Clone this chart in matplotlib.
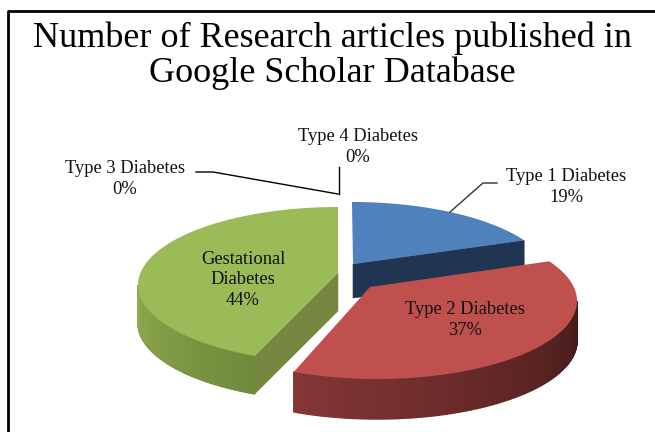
import numpy as np
import matplotlib
matplotlib.use('Agg')
import matplotlib.pyplot as plt
from matplotlib.colors import to_rgb

# clockwise from 12 o'clock
names = ['Type 1 Diabetes', 'Type 2 Diabetes', 'Gestational\nDiabetes', 'Type 3 Diabetes', 'Type 4 Diabetes']
values = [19, 37, 44, 0, 0]
top_colors = ['#4F81BD', '#C0504D', '#9BBB59']
title_text = 'Number of Research articles published in\nGoogle Scholar Database'

plt.rcParams['font.family'] = ['Liberation Serif', 'DejaVu Serif']

fig = plt.figure(figsize=(6.55, 4.32), dpi=100)
ax = fig.add_axes([0, 0, 1, 1])
ax.set_xlim(0, 655)
ax.set_ylim(432, 0)
ax.axis('off')

# excel style fake 3d: each exploded slice has its own ellipse centre and apex
RX, RY = 200, 78
centers = [(352, 280), (377, 301), (338, 285)]
apexes = [(353, 264), (370, 287), (338, 273)]
depths = [34, 40, 38]
# perspective moves the slice borders a bit along the rim
border_shift = np.array([0, -9, 3, 0])


def rim(center, a):
    # a in degrees clockwise from top
    r = np.radians(a)
    return center[0] + RX * np.sin(r), center[1] - RY * np.cos(r)


def mix(c1, c2, t):
    c1 = np.array(to_rgb(c1))
    c2 = np.array(to_rgb(c2))
    return tuple(c1 + (c2 - c1) * t)


def side_wall(center, a1, a2, depth, c1, c2, n=150):
    # arc wall made of thin strips so the shading runs along the rim
    angs = np.linspace(a1, a2, n + 1)
    for i in range(n):
        x0, y0 = rim(center, angs[i])
        x1, y1 = rim(center, angs[i + 1])
        col = mix(c1, c2, i / (n - 1))
        ax.fill([x0, x1, x1, x0], [y0, y1, y1 + depth, y0 + depth],
                facecolor=col, edgecolor=col, lw=1.0, zorder=order)


def flat_wall(p, q, depth, color):
    ax.fill([p[0], q[0], q[0], p[0]], [p[1], q[1], q[1] + depth, p[1] + depth],
            color=color, lw=0.4, zorder=order)


cum = np.concatenate([[0], np.cumsum(values[:3])]) / sum(values) * 360 + border_shift
spans = [(cum[i], cum[i + 1]) for i in range(3)]

# blue slice
order = 1
flat_wall(apexes[0], rim(centers[0], spans[0][1]), depths[0], '#1F3552')
a = np.linspace(spans[0][0], spans[0][1], 80)
x, y = rim(centers[0], a)
ax.fill(np.r_[apexes[0][0], x], np.r_[apexes[0][1], y], color=top_colors[0], lw=0, zorder=2)

# green slice
order = 3
side_wall(centers[2], spans[2][0], 270, depths[2], '#6F8A3A', '#8FAB4F')
flat_wall(apexes[2], rim(centers[2], spans[2][0]), depths[2], '#76883F')
a = np.linspace(spans[2][0], spans[2][1], 120)
x, y = rim(centers[2], a)
ax.fill(np.r_[apexes[2][0], x], np.r_[apexes[2][1], y], color=top_colors[2], lw=0, zorder=4)

# red slice
order = 5
side_wall(centers[1], spans[1][1], 90, depths[1], '#843736', '#451B1A')
a = np.linspace(spans[1][0], spans[1][1], 120)
x, y = rim(centers[1], a)
ax.fill(np.r_[apexes[1][0], x], np.r_[apexes[1][1], y], color=top_colors[1], lw=0, zorder=6)

# labels
label_pos = [(566, 187), (465, 320), (243, 280), (125, 179), (358, 147)]
for name, v, (lx, ly) in zip(names, values, label_pos):
    ax.text(lx, ly, f'{name}\n{v}%', ha='center', va='center', fontsize=13.3,
            color='#111111', linespacing=1.3, zorder=8)

# leader lines
ax.plot([196, 213, 338], [172, 172, 194], color='black', lw=1, zorder=7)
ax.plot([339, 339], [194, 167], color='black', lw=1, zorder=7)
ax.plot([450, 483, 497], [212, 183, 183], color='#333333', lw=1, zorder=7)

ax.text(332, 56, title_text, ha='center', va='center', fontsize=26,
        color='black', linespacing=1.05)

# picture frame, no right or bottom side in the crop
ax.plot([8, 8, 655], [432, 10.5, 10.5], color='black', lw=2, zorder=9)

fig.savefig('out.png', dpi=100)
